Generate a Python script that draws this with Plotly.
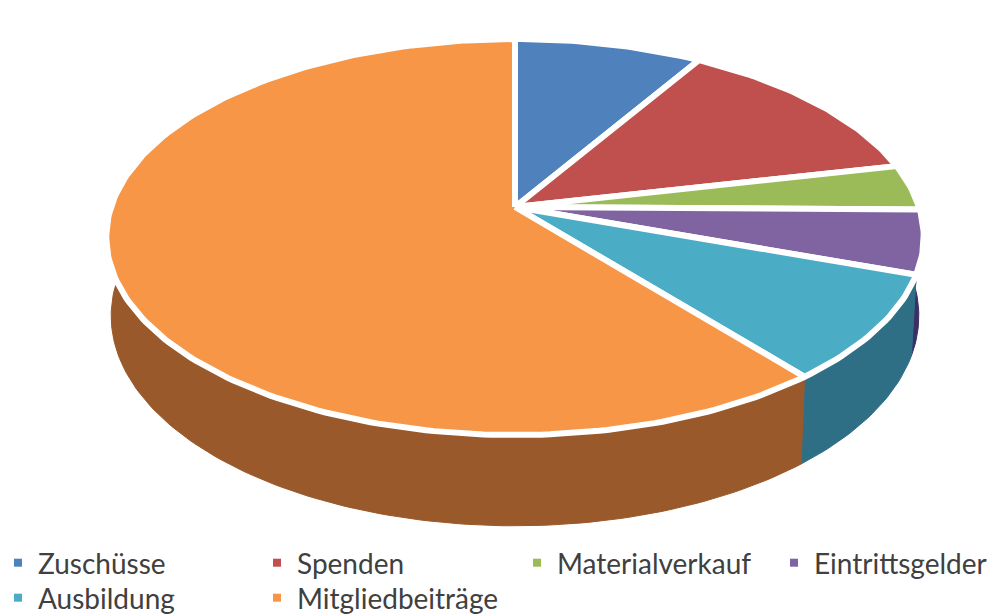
import math
import plotly.graph_objects as go

categories = ["Zuschüsse", "Spenden", "Materialverkauf", "Eintrittsgelder", "Ausbildung", "Mitgliedbeiträge"]
values = [8.6, 12.9, 3.7, 5.2, 8.7, 60.9]
top_colors = ["#4F81BD", "#C0504D", "#9BBB59", "#8064A2", "#4BACC6", "#F79646"]
side_colors = ["#2F5278", "#7C3230", "#637A37", "#3C2F66", "#2E6F85", "#99592A"]
legend_slots = ["legend", "legend2", "legend3", "legend4", "legend5", "legend6"]
legend_left = [-2, 257, 517, 774, -2, 257]
legend_top = [538, 538, 538, 538, 573, 573]

# Perspective projection of the pie disc onto the page (page pixels)
CX, CY = 515, 207
A, B, K = 193.5, 404, 0.1515
H = 77
SHRINK = 0.988


def top_pt(theta):
    x, y = math.sin(theta), math.cos(theta)
    d = 1 + K * y
    return CX + B * x / d, CY - A * y / d


def bottom_pt(theta):
    x, y = math.sin(theta), math.cos(theta)
    d = 1 + K * y
    return CX + SHRINK * B * x / d, CY - A * y / d + H / d


def arc(fn, a0, a1):
    n = max(2, int(abs(a1 - a0) / math.radians(1)))
    return [fn(a0 + (a1 - a0) * i / n) for i in range(n + 1)]


total = sum(values)
spans = []
acc = 0.0
for v in values:
    a0 = acc / total * 2 * math.pi
    acc += v
    spans.append((a0, acc / total * 2 * math.pi))

fig = go.Figure()

# Rim faces
for cat, (a0, a1), col in zip(categories, spans, side_colors):
    pts = arc(top_pt, a0, a1) + arc(bottom_pt, a1, a0)
    pts.append(pts[0])
    fig.add_trace(go.Scatter(
        x=[p[0] for p in pts], y=[p[1] for p in pts], mode="lines", fill="toself",
        fillcolor=col, line=dict(color=col, width=1), showlegend=False,
        hoverinfo="text", text=cat))

# Top faces
for cat, v, (a0, a1), col in zip(categories, values, spans, top_colors):
    pts = [(CX, CY)] + arc(top_pt, a0, a1) + [(CX, CY)]
    fig.add_trace(go.Scatter(
        x=[p[0] for p in pts], y=[p[1] for p in pts], mode="lines", fill="toself",
        fillcolor=col, line=dict(color="#FFFFFF", width=6), showlegend=False,
        hoverinfo="text", text=f"{cat}: {v}%"))

# Legend keys
for cat, col, slot in zip(categories, top_colors, legend_slots):
    fig.add_trace(go.Scatter(
        x=[None], y=[None], mode="markers", name=cat, legend=slot,
        marker=dict(symbol="square", size=8, color=col)))


def legend_at(left_px, top_px):
    return dict(
        orientation="v", x=left_px / 1006, y=(616 - top_px) / 616,
        xanchor="left", yanchor="top", itemwidth=30, tracegroupgap=0,
        bgcolor="rgba(0,0,0,0)", traceorder="normal",
        font=dict(family="Lato", size=28, color="#404040"))


fig.update_layout(
    width=1006, height=616,
    margin=dict(l=0, r=0, t=0, b=0, autoexpand=False),
    paper_bgcolor="#FFFFFF", plot_bgcolor="#FFFFFF",
    xaxis=dict(range=[0, 1006], visible=False, fixedrange=True),
    yaxis=dict(range=[616, 0], visible=False, fixedrange=True),
    font=dict(family="Lato", size=28, color="#404040"),
    **{slot: legend_at(l, t) for slot, l, t in zip(legend_slots, legend_left, legend_top)},
)

fig.write_html("out.html", config={"displayModeBar": False},
               post_script="document.body.style.margin='0';document.body.style.overflow='hidden';")
